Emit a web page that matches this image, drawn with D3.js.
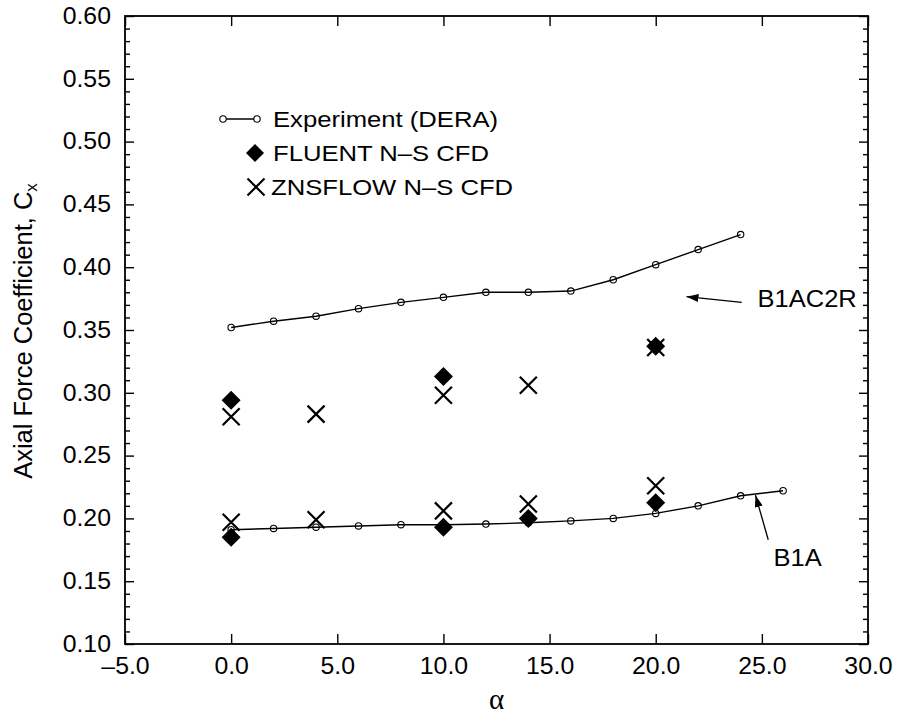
<!DOCTYPE html>
<html>
<head>
<meta charset="utf-8">
<script src="https://cdn.jsdelivr.net/npm/d3@7"></script>
<style>
  body { margin: 0; background: #fff; }
  svg { display: block; }
  text { fill: #000; }
</style>
</head>
<body>
<svg id="chart" width="897" height="715"></svg>
<script>
// Angle of attack (deg) and axial force coefficient, per configuration/method
const alphaB1AC2R = [0, 2, 4, 6, 8, 10, 12, 14, 16, 18, 20, 22, 24];
const cxB1AC2R    = [0.352, 0.357, 0.361, 0.367, 0.372, 0.376, 0.380, 0.380, 0.381, 0.390, 0.402, 0.414, 0.426];

const alphaB1A = [0, 2, 4, 6, 8, 10, 12, 14, 16, 18, 20, 22, 24, 26];
const cxB1A    = [0.191, 0.192, 0.193, 0.194, 0.195, 0.195, 0.1955, 0.1965, 0.198, 0.200, 0.204, 0.210, 0.218, 0.222];

const alphaFluent = [0, 10, 20, 0, 10, 14, 20];
const cxFluent    = [0.294, 0.313, 0.337, 0.185, 0.193, 0.200, 0.2125];

const alphaZns = [0, 4, 10, 14, 20, 0, 4, 10, 14, 20];
const cxZns    = [0.281, 0.283, 0.298, 0.306, 0.336, 0.197, 0.199, 0.206, 0.2115, 0.226];

const xTicks = [-5, 0, 5, 10, 15, 20, 25, 30];
const xTickLabels = ["\u20135.0", "0.0", "5.0", "10.0", "15.0", "20.0", "25.0", "30.0"];
const yTicks = [0.10, 0.15, 0.20, 0.25, 0.30, 0.35, 0.40, 0.45, 0.50, 0.55, 0.60];
const yTickLabels = ["0.10", "0.15", "0.20", "0.25", "0.30", "0.35", "0.40", "0.45", "0.50", "0.55", "0.60"];

const legendLabels = ["Experiment (DERA)", "FLUENT N\u2013S CFD", "ZNSFLOW N\u2013S CFD"];

// Case labels with leader arrows, in data units
const caseLabels = [
  { text: "B1AC2R", at: [24.8, 0.368], from: [24.05, 0.372], to: [21.45, 0.3765] },
  { text: "B1A",    at: [25.55, 0.162], from: [25.3, 0.183],  to: [24.7, 0.2185] }
];

const FONT = "'Liberation Sans', Arial, Helvetica, sans-serif";
const svg = d3.select("#chart");
const L = 125, R = 868, T = 16, B = 644;

const x = d3.scaleLinear().domain([-5, 30]).range([L, R]);
const y = d3.scaleLinear().domain([0.10, 0.60]).range([B, T]);

const defs = svg.append("defs");
defs.append("marker")
  .attr("id", "arrowhead")
  .attr("viewBox", "0 0 12 8")
  .attr("refX", 12).attr("refY", 4)
  .attr("markerWidth", 12).attr("markerHeight", 8)
  .attr("markerUnits", "userSpaceOnUse")
  .attr("orient", "auto")
  .append("path").attr("d", "M0,0 L12,4 L0,8 Z").attr("fill", "#000");

// ---- axes: inward ticks on all four sides ----
function styleAxis(g) {
  g.select(".domain").remove();
  g.selectAll(".tick line").attr("stroke", "#000").attr("stroke-width", 1.4);
  g.selectAll("text").attr("font-family", FONT);
}

const yMinor = d3.range(0.11, 0.595, 0.01).filter(v => Math.abs(Math.round(v * 20) - v * 20) > 1e-6);

svg.append("g").attr("transform", `translate(0,${B})`)
  .call(d3.axisBottom(x).tickValues(xTicks).tickSize(-10).tickPadding(14)
    .tickFormat((d, i) => xTickLabels[i]))
  .call(styleAxis)
  .call(g => g.selectAll("text").attr("font-size", 23).attr("transform", "scale(1.08,1)"));

svg.append("g").attr("transform", `translate(0,${T})`)
  .call(d3.axisTop(x).tickValues(xTicks).tickSize(-10).tickFormat(""))
  .call(styleAxis);

svg.append("g").attr("transform", `translate(${L},0)`)
  .call(d3.axisLeft(y).tickValues(yTicks).tickSize(-9).tickPadding(13)
    .tickFormat((d, i) => yTickLabels[i]))
  .call(styleAxis)
  .call(g => g.selectAll("text").attr("font-size", 23).attr("transform", "scale(1.08,1)"));

svg.append("g").attr("transform", `translate(${L},0)`)
  .call(d3.axisLeft(y).tickValues(yMinor).tickSize(-5).tickFormat(""))
  .call(styleAxis);

svg.append("g").attr("transform", `translate(${R},0)`)
  .call(d3.axisRight(y).tickValues(yTicks).tickSize(-9).tickFormat(""))
  .call(styleAxis);

svg.append("g").attr("transform", `translate(${R},0)`)
  .call(d3.axisRight(y).tickValues(yMinor).tickSize(-5).tickFormat(""))
  .call(styleAxis);

// plot frame
svg.append("rect")
  .attr("x", L).attr("y", T).attr("width", R - L).attr("height", B - T)
  .attr("fill", "none").attr("stroke", "#000").attr("stroke-width", 1.8);

// axis titles
svg.append("text")
  .attr("x", (L + R) / 2).attr("y", 709)
  .attr("text-anchor", "middle")
  .attr("font-family", "'Liberation Serif', 'Times New Roman', serif")
  .attr("font-size", 29)
  .text("\u03b1");

const yTitle = svg.append("text")
  .attr("transform", `translate(32,331) rotate(-90)`)
  .attr("text-anchor", "middle")
  .attr("font-family", FONT)
  .attr("font-size", 25.5);
yTitle.append("tspan").text("Axial Force Coefficient, C");
yTitle.append("tspan").attr("font-size", 17).attr("dy", 5).text("x");

// ---- experiment curves ----
const line = d3.line().x(d => x(d[0])).y(d => y(d[1]));
const expSeries = [
  d3.zip(alphaB1AC2R, cxB1AC2R),
  d3.zip(alphaB1A, cxB1A)
];
expSeries.forEach(pts => {
  svg.append("path").datum(pts)
    .attr("d", line).attr("fill", "none")
    .attr("stroke", "#000").attr("stroke-width", 1.4);
  svg.append("g").selectAll("circle").data(pts).join("circle")
    .attr("cx", d => x(d[0])).attr("cy", d => y(d[1])).attr("r", 3.2)
    .attr("fill", "none").attr("stroke", "#000").attr("stroke-width", 1.1);
});

// ---- CFD markers ----
function diamondPath(cx, cy, h) {
  return `M${cx},${cy - h}L${cx + h},${cy}L${cx},${cy + h}L${cx - h},${cy}Z`;
}
function crossPath(cx, cy, h) {
  return `M${cx - h},${cy - h}L${cx + h},${cy + h}M${cx - h},${cy + h}L${cx + h},${cy - h}`;
}

svg.append("g").selectAll("path").data(d3.zip(alphaFluent, cxFluent)).join("path")
  .attr("d", d => diamondPath(x(d[0]), y(d[1]), 9.5))
  .attr("fill", "#000");

svg.append("g").selectAll("path").data(d3.zip(alphaZns, cxZns)).join("path")
  .attr("d", d => crossPath(x(d[0]), y(d[1]), 8.5))
  .attr("fill", "none").attr("stroke", "#000").attr("stroke-width", 2.2);

// ---- case labels ----
caseLabels.forEach(c => {
  svg.append("line")
    .attr("x1", x(c.from[0])).attr("y1", y(c.from[1]))
    .attr("x2", x(c.to[0])).attr("y2", y(c.to[1]))
    .attr("stroke", "#000").attr("stroke-width", 1.3)
    .attr("marker-end", "url(#arrowhead)");
  svg.append("text")
    .attr("transform", `translate(${x(c.at[0])},${y(c.at[1])}) scale(1.04,1)`)
    .attr("font-family", FONT).attr("font-size", 24.5)
    .text(c.text);
});

// ---- legend ----
const lg = svg.append("g").attr("font-family", FONT).attr("font-size", 22.5);
const rows = [119, 153, 187];
lg.append("line").attr("x1", 223).attr("x2", 257).attr("y1", rows[0]).attr("y2", rows[0])
  .attr("stroke", "#000").attr("stroke-width", 1.4);
[223, 257].forEach(cx => lg.append("circle").attr("cx", cx).attr("cy", rows[0]).attr("r", 3.2)
  .attr("fill", "#fff").attr("stroke", "#000").attr("stroke-width", 1.1));
lg.append("path").attr("d", diamondPath(255, rows[1], 9)).attr("fill", "#000");
lg.append("path").attr("d", crossPath(256, rows[2], 8.5))
  .attr("fill", "none").attr("stroke", "#000").attr("stroke-width", 2.2);
const textX = [273, 273, 271];
legendLabels.forEach((t, i) => {
  lg.append("text")
    .attr("transform", `translate(${textX[i]},${rows[i] + 8}) scale(1.14,1)`)
    .text(t);
});
</script>
</body>
</html>
